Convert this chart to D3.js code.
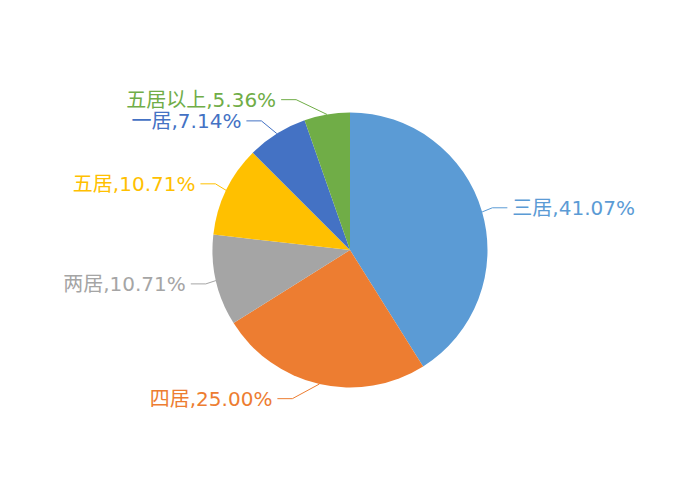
<!DOCTYPE html>
<html>
<head>
<meta charset="utf-8">
<script src="https://cdn.jsdelivr.net/npm/d3@7/dist/d3.min.js"></script>
<style>
  html, body { margin: 0; padding: 0; background: #fff; }
  svg { display: block; }
  text { font-family: "DejaVu Sans", "Noto Sans CJK SC", sans-serif; font-size: 20px; }
</style>
</head>
<body>
<div id="chart"></div>
<script>
// Share of listings by layout (percent)
const categories = ["三居", "四居", "两居", "五居", "一居", "五居以上"];
const shares = [41.07, 25.00, 10.71, 10.71, 7.14, 5.36];
const palette = ["#5B9BD5", "#ED7D31", "#A5A5A5", "#FFC000", "#4472C4", "#70AD47"];

const width = 700, height = 500;
const cx = width / 2, cy = height / 2;
const radius = Math.min(width, height) / 2 * 0.55;
const lineLen = 15;      // radial leader length (sets label height)
const lineLen2 = 15;     // horizontal leader length
const labelGap = 5;      // gap between leader end and text
// elbows of the leaders lie on an ellipse around the pie
const elbowRx = radius + 10;
const elbowRy = radius + 24;

const color = d3.scaleOrdinal().domain(categories).range(palette);

const svg = d3.select("#chart").append("svg")
  .attr("width", width).attr("height", height);

const g = svg.append("g").attr("transform", `translate(${cx},${cy})`);

const pie = d3.pie().sort(null).value(d => d.value);
const arcs = pie(categories.map((c, i) => ({ name: c, value: shares[i] })));

const arc = d3.arc().innerRadius(0).outerRadius(radius);

g.selectAll("path.slice")
  .data(arcs)
  .join("path")
  .attr("class", "slice")
  .attr("d", arc)
  .attr("fill", d => color(d.data.name));

// label layout: start on the rim, elbow on the ellipse, then horizontal run
const layout = arcs.map(d => {
  const a = (d.startAngle + d.endAngle) / 2;
  const sx = Math.sin(a), sy = -Math.cos(a);
  const p0 = [radius * sx, radius * sy];
  const ey = (radius + lineLen) * sy;
  const dir = sx < 0 ? -1 : 1;
  const ex = dir * elbowRx * Math.sqrt(Math.max(0, 1 - (ey / elbowRy) ** 2));
  const p1 = [ex, ey];
  const p2 = [ex + dir * lineLen2, ey];
  return { d, dir, pts: [p0, p1, p2], tx: p2[0] + dir * labelGap, ty: ey };
});

g.selectAll("polyline.leader")
  .data(layout)
  .join("polyline")
  .attr("class", "leader")
  .attr("points", l => l.pts.map(p => p.join(",")).join(" "))
  .attr("fill", "none")
  .attr("stroke", l => color(l.d.data.name))
  .attr("stroke-width", 1);

g.selectAll("text.label")
  .data(layout)
  .join("text")
  .attr("class", "label")
  .attr("x", l => l.tx)
  .attr("y", l => l.ty)
  .attr("dy", "0.35em")
  .attr("text-anchor", l => l.dir < 0 ? "end" : "start")
  .attr("fill", l => color(l.d.data.name))
  .text(l => `${l.d.data.name},${l.d.data.value.toFixed(2)}%`);
</script>
</body>
</html>
